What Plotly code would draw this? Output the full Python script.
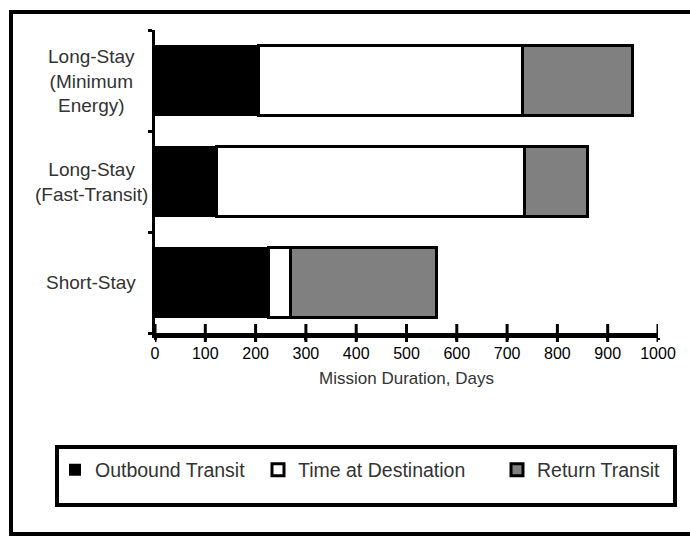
import plotly.graph_objects as go

# ---------------- data ----------------
categories = ["Short-Stay", "Long-Stay<br>(Fast-Transit)", "Long-Stay<br>(Minimum<br>Energy)"]
outbound_transit = [226, 122, 205]
time_at_destination = [44, 613, 525]
return_transit = [290, 125, 220]
series_names = ["Outbound Transit", "Time at Destination", "Return Transit"]
x_tick_values = [0, 100, 200, 300, 400, 500, 600, 700, 800, 900, 1000]
x_tick_labels = ["0", "100", "200", "300", "400", "500", "600", "700", "800", "900", "1000"]
x_title = "Mission Duration, Days"

# ---------------- layout geometry ----------------
W, H = 690, 541
L, R, T, B = 155, 32, 30, 208
PW = W - L - R
PH = H - T - B


def px(x):
    return (x - L) / PW


def py(y):
    return (H - B - y) / PH


FONT = "Liberation Sans, Arial, sans-serif"
TEXT_GREY = "#333333"

fig = go.Figure()
fig.add_trace(go.Bar(
    y=categories, x=outbound_transit, orientation="h", name=series_names[0],
    marker=dict(color="black", line=dict(color="black", width=0)),
    legend="legend",
))
fig.add_trace(go.Bar(
    y=categories, x=time_at_destination, orientation="h", name=series_names[1],
    marker=dict(color="white", line=dict(color="black", width=3)),
    legend="legend2",
))
fig.add_trace(go.Bar(
    y=categories, x=return_transit, orientation="h", name=series_names[2],
    marker=dict(color="#808080", line=dict(color="black", width=3)),
    legend="legend3",
))

legend_common = dict(
    orientation="h", yanchor="middle", xanchor="left",
    bgcolor="rgba(0,0,0,0)", borderwidth=0,
    font=dict(family=FONT, size=19.5, color=TEXT_GREY),
)

annotations = []
for c in categories:
    annotations.append(dict(
        x=px(91), xref="paper", y=c, yref="y", text=c, showarrow=False,
        xanchor="center", yanchor="middle", align="center",
        font=dict(family=FONT, size=19, color=TEXT_GREY),
    ))

shapes = [
    # outer frame
    dict(type="rect", xref="paper", yref="paper",
         x0=px(11), x1=px(720), y0=py(534), y1=py(12),
         line=dict(color="black", width=4), fillcolor="rgba(0,0,0,0)", layer="below"),
    # legend box
    dict(type="rect", xref="paper", yref="paper",
         x0=px(57), x1=px(675), y0=py(505), y1=py(447),
         line=dict(color="black", width=4), fillcolor="rgba(0,0,0,0)", layer="below"),
]
# x-axis tick marks that cross the axis line (positioned on the x scale)
for v in x_tick_values:
    shapes.append(dict(type="line", xref="x", yref="paper",
                       x0=v, x1=v, y0=py(342), y1=py(324),
                       line=dict(color="black", width=3)))

fig.update_layout(
    width=W, height=H,
    margin=dict(l=L, r=R, t=T, b=B, pad=0),
    paper_bgcolor="white", plot_bgcolor="white",
    barmode="stack", bargap=0.3,
    font=dict(family=FONT, color="black"),
    showlegend=True,
    legend=dict(x=px(55), y=py(470), **legend_common),
    legend2=dict(x=px(258), y=py(470), **legend_common),
    legend3=dict(x=px(497), y=py(470), **legend_common),
    annotations=annotations,
    shapes=shapes,
    xaxis=dict(
        range=[0, 1000], tickmode="array", tickvals=x_tick_values, ticktext=x_tick_labels,
        showline=True, linecolor="black", linewidth=5, mirror=False,
        ticks="outside", ticklen=2, tickwidth=3, tickcolor="black",
        showgrid=False, zeroline=False,
        tickfont=dict(family=FONT, size=16, color="black"),
        title=dict(text=x_title, font=dict(family=FONT, size=17, color=TEXT_GREY), standoff=12),
    ),
    yaxis=dict(
        type="category", categoryorder="array", categoryarray=categories,
        range=[-0.5, 2.5],
        showline=True, linecolor="black", linewidth=3,
        ticks="outside", tickson="boundaries", ticklen=4, tickwidth=3, tickcolor="black",
        showticklabels=False, showgrid=False, zeroline=False,
    ),
)

fig.write_html(
    "out.html",
    config={"displayModeBar": False},
    post_script="document.body.style.margin='0';document.body.style.overflow='hidden';",
)
